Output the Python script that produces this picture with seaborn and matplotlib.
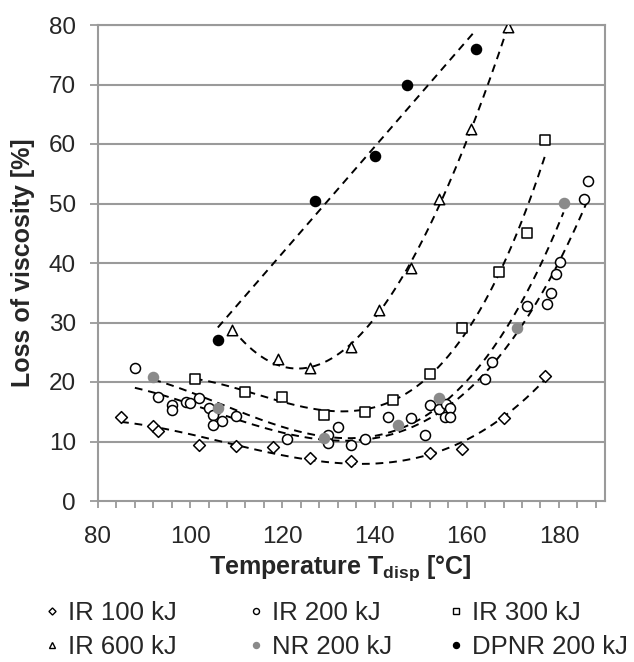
import numpy as np
import pandas as pd
import matplotlib
matplotlib.use("Agg")
import matplotlib.pyplot as plt
from matplotlib.ticker import MultipleLocator
from matplotlib.lines import Line2D
import seaborn as sns

# ---------------- data ----------------
ir100_x = [85, 92, 93, 102, 110, 118, 126, 135, 152, 159, 168, 177]
ir100_y = [14.1, 12.6, 11.8, 9.4, 9.3, 9.0, 7.3, 6.7, 8.1, 8.7, 13.9, 21.0]

ir200_x = [88, 93, 96, 96, 99, 100, 102, 104, 105, 105, 107, 110, 121, 130, 130, 132,
           135, 138, 143, 148, 151, 152, 154, 155.4, 156.4, 155.3, 156.4, 164, 165.4,
           173, 177.4, 178.3, 179.4, 180.3, 185.4, 186.4]
ir200_y = [22.3, 17.4, 16.1, 15.3, 16.7, 16.4, 17.3, 15.6, 14.5, 12.8, 13.4, 14.3, 10.5,
           11.1, 9.7, 12.4, 9.4, 10.5, 14.2, 13.9, 11.1, 16.2, 15.4, 16.3, 15.7, 14.2, 14.2,
           20.5, 23.3, 32.8, 33.1, 35.0, 38.1, 40.2, 50.7, 53.7]

ir300_x = [101, 112, 120, 129, 138, 144, 152, 159, 167, 173, 177]
ir300_y = [20.5, 18.4, 17.5, 14.4, 14.9, 16.9, 21.3, 29.0, 38.5, 45.1, 60.6]

ir600_x = [109, 119, 126, 135, 141, 148, 154, 161, 169]
ir600_y = [28.7, 23.8, 22.3, 25.8, 32.1, 39.2, 50.8, 62.6, 79.6]

nr200_x = [92, 106, 129, 145, 154, 171, 181]
nr200_y = [20.9, 15.6, 10.6, 12.8, 17.3, 29.0, 50.1]

dpnr200_x = [106, 127, 140, 147, 162]
dpnr200_y = [27.0, 50.5, 58.0, 70.0, 76.0]

series_names = ["IR 100 kJ", "IR 200 kJ", "IR 300 kJ", "IR 600 kJ", "NR 200 kJ", "DPNR 200 kJ"]
x_ticks = [80, 100, 120, 140, 160, 180]
y_ticks = [0, 10, 20, 30, 40, 50, 60, 70, 80]

# name, x, y, marker, face, edge, trend-degree, marker size (pt)
series = [
    (series_names[0], ir100_x, ir100_y, "D", "white", "black", 3, 6),
    (series_names[1], ir200_x, ir200_y, "o", "white", "black", 3, 7.2),
    (series_names[2], ir300_x, ir300_y, "s", "white", "black", 3, 7),
    (series_names[3], ir600_x, ir600_y, "^", "white", "black", 3, 7.5),
    (series_names[4], nr200_x, nr200_y, "o", "#8a8a8a", "#8a8a8a", 3, 7.2),
    (series_names[5], dpnr200_x, dpnr200_y, "o", "black", "black", 1, 7.2),
]

# ---------------- style ----------------
sns.set_theme(style="white")
plt.rcParams["font.family"] = ["Liberation Sans", "DejaVu Sans"]
plt.rcParams["mathtext.fontset"] = "custom"
plt.rcParams["mathtext.bf"] = "Liberation Sans:bold"
plt.rcParams["mathtext.rm"] = "Liberation Sans"

fig = plt.figure(figsize=(6.34, 6.62), dpi=100)
ax = fig.add_axes([98 / 634, 1 - 501 / 662, (605 - 98) / 634, (501 - 25) / 662])

grid_col = "#9a9a9a"
for yv in y_ticks[1:]:
    ax.axhline(yv, color=grid_col, lw=1.5, zorder=0)

for name, xs, ys, mk, fc, ec, deg, ms in series:
    xs = np.asarray(xs, float)
    ys = np.asarray(ys, float)
    coef = np.polyfit(xs, ys, deg)
    xf = np.linspace(xs.min(), xs.max(), 200)
    fit = pd.DataFrame({"x": xf, "y": np.polyval(coef, xf)})
    sns.lineplot(data=fit, x="x", y="y", ax=ax, color="black", lw=1.4,
                 linestyle=(0, (4, 3)), zorder=2)
    df = pd.DataFrame({"x": xs, "y": ys})
    sns.scatterplot(data=df, x="x", y="y", ax=ax, marker=mk, s=ms ** 2,
                    facecolor=fc, edgecolor=ec, linewidth=1.1, zorder=3)

ax.set_xlim(80, 190)
ax.set_ylim(0, 80)
ax.set_xticks(x_ticks)
ax.xaxis.set_minor_locator(MultipleLocator(4))
ax.set_yticks(y_ticks)
ax.tick_params(axis="x", which="both", direction="out", length=5, width=1.3,
               color=grid_col, bottom=True, labelsize=17.5, pad=13)
ax.tick_params(axis="y", which="major", direction="out", length=6, width=1.3,
               color=grid_col, left=True, labelsize=17.5, pad=10)
for s in ["left", "bottom", "right", "top"]:
    ax.spines[s].set_visible(True)
    ax.spines[s].set_color(grid_col)
    ax.spines[s].set_linewidth(1.5)

ax.set_xlabel(r"Temperature T$_{\mathbf{disp}}$ [°C]", fontsize=18, fontweight="bold")
ax.set_ylabel("Loss of viscosity [%]", fontsize=18, fontweight="bold", labelpad=10)
ax.xaxis.set_label_coords(0.478, -0.141)
ax.xaxis.label.set_va("center")

handles = []
for name, xs, ys, mk, fc, ec, deg, ms in series:
    handles.append(Line2D([], [], linestyle="none", marker=mk, markersize=ms * 0.6,
                          markerfacecolor=fc, markeredgecolor=ec, markeredgewidth=1.0,
                          label=name))

legend_fs = 18.5
col_left_px = [47, 251, 451]
legend_top_px = 601
for c in range(3):
    idx = [c, c + 3]
    fig.legend([handles[i] for i in idx], [series_names[i] for i in idx],
               loc="upper left", bbox_to_anchor=(col_left_px[c] / 634, 1 - legend_top_px / 662),
               frameon=False, fontsize=legend_fs, handlelength=0.4, handletextpad=0.4,
               labelspacing=0.4, borderpad=0, borderaxespad=0)

fig.savefig("out.png", dpi=100)
